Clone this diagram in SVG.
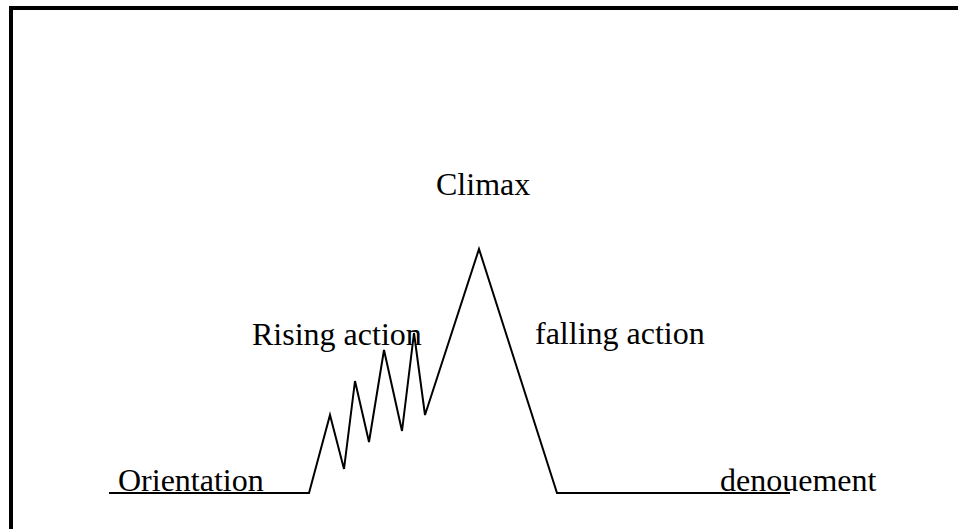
<svg xmlns="http://www.w3.org/2000/svg" width="958" height="529" viewBox="0 0 958 529">
<style>
.lbl{font-family:"Liberation Serif","Times New Roman",serif;font-size:32px;fill:#000}
.frame{stroke:#000;stroke-width:4;fill:none}
.plot{stroke:#000;stroke-width:2;fill:none;stroke-linejoin:miter}
</style>
<rect width="958" height="529" fill="#fff"/>
<g id="frame">
<path class="frame" d="M958 8 H11 V529"/>
</g>
<g id="connectors">
<polyline class="plot" points="109,493 309,493 330,415 344,469 355,381 369,442 384,350 402,431 414,333 425,415 479,249 557,493 790,493"/>
</g>
<g id="climax"><text class="lbl" x="436" y="195">Climax</text></g>
<g id="rising"><text class="lbl" x="252" y="345">Rising action</text></g>
<g id="falling"><text class="lbl" x="535" y="344">falling action</text></g>
<g id="orientation"><text class="lbl" x="118" y="491">Orientation</text></g>
<g id="denouement"><text class="lbl" x="720" y="491">denouement</text></g>
</svg>
